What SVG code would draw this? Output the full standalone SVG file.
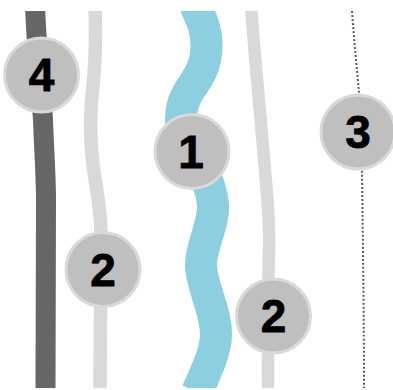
<svg xmlns="http://www.w3.org/2000/svg" width="393" height="390" viewBox="0 0 393 390">
<style>
.l{fill:none;stroke-linecap:butt}
.n{fill:#bfbfbf;stroke:#d9d9d9;stroke-width:3}
.t{font-family:"Liberation Sans",Arial,sans-serif;font-weight:700;font-size:46px;fill:#000;stroke:#000;stroke-width:.8;text-anchor:middle}
</style>
<defs><clipPath id="c"><rect x="0" y="11" width="393" height="377"/></clipPath></defs>
<rect width="393" height="390" fill="#fff"/>
<g id="connectors" clip-path="url(#c)">
<path class="l" stroke="#666666" stroke-width="20" d="M35 5C36 40 41 90 43 120C44 150 46 175 46 200C46 240 46 300 45.500 390"/>
<path class="l" stroke="#d9d9d9" stroke-width="13.500" d="M95 5C96 40 96 60 93 85C90 110 90 135 92 155C94 180 101 205 101 235C101 280 100 330 100 390"/>
<path class="l" stroke="#8bcfe0" stroke-width="32" d="M195 5C203 22 207 32 206.500 48C206 62 202 72 193 85C184 98 181 106 181 122C181 145 209 165 213 205C214 225 201 245 201 265C201 285 216 310 216 335C216 350 207 370 197 392"/>
<path class="l" stroke="#d9d9d9" stroke-width="12.500" d="M251 5C254 50 260 110 265 170C268 205 270 225 269 250C268 290 268 340 268 390"/>
<path class="l" stroke="#5a5a5a" stroke-width="2" stroke-dasharray="2 2" d="M352 11C354 40 357 70 359 92C361 120 362 150 362 172C363 250 364 320 364 388"/>
</g>
<g id="node-4"><circle class="n" cx="41.500" cy="75" r="37"/><text class="t" x="41.500" y="91">4</text></g>
<g id="node-2a"><circle class="n" cx="103" cy="269.500" r="37"/><text class="t" x="103" y="286">2</text></g>
<g id="node-1"><circle class="n" cx="192" cy="151.500" r="37"/><text class="t" x="191" y="168">1</text></g>
<g id="node-3"><circle class="n" cx="358" cy="132" r="37"/><text class="t" x="358" y="148">3</text></g>
<g id="node-2b"><circle class="n" cx="273.500" cy="316" r="37"/><text class="t" x="273.500" y="332">2</text></g>
</svg>
